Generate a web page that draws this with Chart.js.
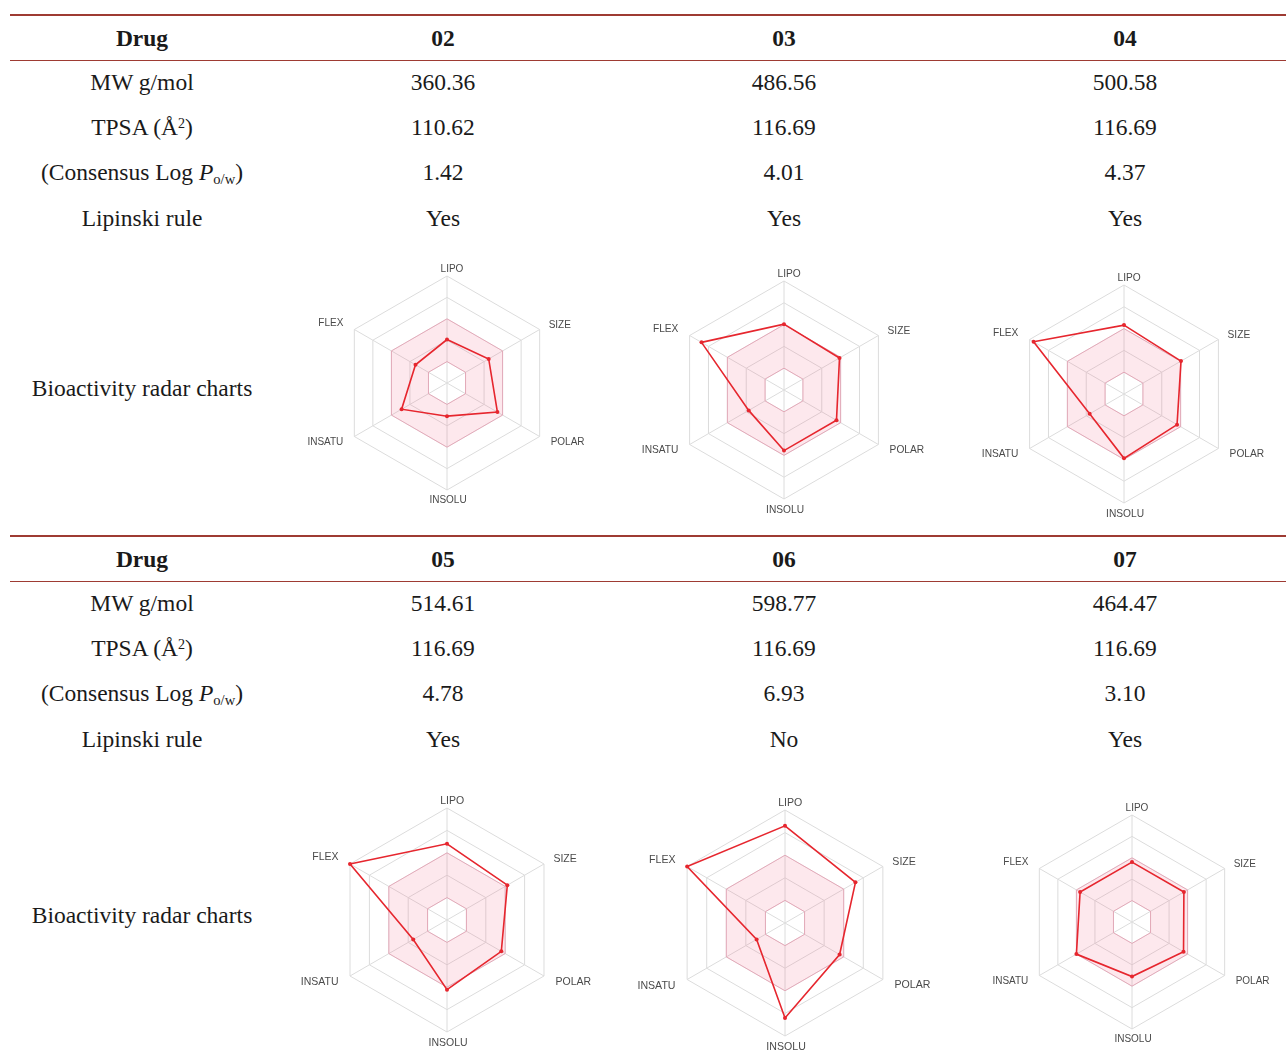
<!DOCTYPE html>
<html>
<head>
<meta charset="utf-8">
<script src="https://cdn.jsdelivr.net/npm/chart.js@4.4.1/dist/chart.umd.min.js"></script>
<style>
  body { margin: 0; background: #fff; }
  #page { position: relative; width: 1286px; height: 1062px; overflow: hidden;
          font-family: "Liberation Serif", "Times New Roman", serif; color: #1a1a1a; }
  .cell { position: absolute; transform: translate(-50%, -50%); white-space: nowrap;
          font-size: 23.5px; line-height: 1; }
  .cell.bold { font-weight: bold; }
  .cell sup { font-size: 0.6em; vertical-align: 0.55em; line-height: 0; }
  .cell sub { font-size: 0.62em; vertical-align: -0.25em; line-height: 0; }
  .rule { position: absolute; left: 10px; right: 0; background: #9e3b33; }
  canvas { position: absolute; }
</style>
</head>
<body>
<div id="page"></div>
<script>
// Table values
const drugIds = ["02", "03", "04", "05", "06", "07"];
const mwValues = ["360.36", "486.56", "500.58", "514.61", "598.77", "464.47"];
const tpsaValues = ["110.62", "116.69", "116.69", "116.69", "116.69", "116.69"];
const logPValues = ["1.42", "4.01", "4.37", "4.78", "6.93", "3.10"];
const lipinskiRule = ["Yes", "Yes", "Yes", "Yes", "No", "Yes"];
const rowLabels = ["MW g/mol", "TPSA (Å<sup>2</sup>)", "(Consensus Log <i>P</i><sub>o/w</sub>)", "Lipinski rule"];

// Radar axes, clockwise from the top, on a 0-5 scale
const radarAxes = ["LIPO", "SIZE", "POLAR", "INSOLU", "INSATU", "FLEX"];
const radar02 = [2.03, 2.25, 2.72, 1.55, 2.45, 1.7];
const radar03 = [3.02, 2.94, 2.78, 2.78, 1.87, 4.37];
const radar04 = [3.16, 3.02, 2.81, 2.95, 1.82, 4.79];
const radar05 = [3.4, 3.11, 2.8, 3.11, 1.74, 5];
const radar06 = [4.3, 3.6, 2.79, 4.2, 1.45, 5];
const radar07 = [2.8, 2.8, 2.78, 2.55, 3.0, 2.8];
// optimal range (pink band)
const optimalUpper = [3, 3, 3, 3, 3, 3];
const optimalLower = [1, 1, 1, 1, 1, 1];

const radarSeries = [radar02, radar03, radar04, radar05, radar06, radar07];

const page = document.getElementById("page");

const addCell = (html, x, y, bold) => {
  const el = document.createElement("div");
  el.className = bold ? "cell bold" : "cell";
  el.innerHTML = html;
  el.style.left = x + "px";
  el.style.top = y + "px";
  page.appendChild(el);
};

const addRule = (y, h) => {
  const el = document.createElement("div");
  el.className = "rule";
  el.style.top = y + "px";
  el.style.height = h + "px";
  page.appendChild(el);
};

// axis names next to the outer ring: [dx, dy, align]
const titleOffsets = [
  [5, -7, "center"],
  [9, -4.5, "left"],
  [11, 5.5, "left"],
  [1, 10.5, "center"],
  [-11, 6, "right"],
  [-11, -6.5, "right"],
];

const axisTitles = {
  id: "axisTitles",
  afterDraw(chart) {
    const scale = chart.scales.r;
    const ctx = chart.ctx;
    const k = scale.drawingArea / 107;
    ctx.save();
    ctx.font = `${(10 * k).toFixed(1)}px "Liberation Sans", Arial, sans-serif`;
    ctx.fillStyle = "#4a4a4a";
    ctx.textBaseline = "middle";
    chart.data.labels.forEach((label, i) => {
      const p = scale.getPointPosition(i, scale.drawingArea);
      const [dx, dy, align] = titleOffsets[i];
      ctx.textAlign = align;
      ctx.fillText(label, p.x + dx * k, p.y + dy * k);
    });
    ctx.restore();
  },
};

const drawRadar = (values, cx, cy, r) => {
  const canvas = document.createElement("canvas");
  canvas.width = 320;
  canvas.height = 270;
  canvas.style.left = cx - 160 + "px";
  canvas.style.top = cy - 135 + "px";
  page.appendChild(canvas);

  new Chart(canvas, {
    type: "radar",
    data: {
      labels: radarAxes,
      datasets: [
        {
          data: values,
          borderColor: "#e6262e",
          borderWidth: 1.6,
          pointRadius: 2,
          pointBorderWidth: 0,
          pointBackgroundColor: "#e6262e",
          fill: false,
        },
        {
          data: optimalUpper,
          borderColor: "rgba(232, 120, 150, 0.45)",
          borderWidth: 1,
          pointRadius: 0,
          backgroundColor: "rgba(240, 90, 130, 0.14)",
          fill: "+1",
        },
        {
          data: optimalLower,
          borderColor: "rgba(232, 120, 150, 0.45)",
          borderWidth: 1,
          pointRadius: 0,
          fill: false,
        },
      ],
    },
    options: {
      responsive: false,
      animation: false,
      layout: { padding: { left: 160 - r, right: 160 - r, top: 135 - r, bottom: 135 - r } },
      plugins: { legend: { display: false }, tooltip: { enabled: false } },
      scales: {
        r: {
          min: 0,
          max: 5,
          ticks: { display: false, stepSize: 1 },
          pointLabels: { display: false },
          grid: { color: "#dcdcdc", lineWidth: 1 },
          angleLines: { color: "#dcdcdc", lineWidth: 1 },
        },
      },
    },
    plugins: [axisTitles],
  });
};

// two blocks of three drugs each
const blocks = [
  { ids: [0, 1, 2], dy: 0, labelY: 389,
    radar: [[447, 383, 107], [784, 390, 109], [1124, 394, 109]] },
  { ids: [3, 4, 5], dy: 521, labelY: 916,
    radar: [[447, 920, 112], [785, 923, 113], [1132, 922, 107]] },
];
const colX = [443, 784, 1125];
const rowY = [83, 128, 173, 218.5];

blocks.forEach((b) => {
  addRule(14 + b.dy, 2);
  addRule(60 + b.dy, 1);
  addCell("Drug", 142, 39 + b.dy, true);
  rowLabels.forEach((label, j) => addCell(label, 142, rowY[j] + b.dy));
  addCell("Bioactivity radar charts", 142, b.labelY);

  b.ids.forEach((id, c) => {
    const x = colX[c];
    addCell(drugIds[id], x, 39 + b.dy, true);
    addCell(mwValues[id], x, rowY[0] + b.dy);
    addCell(tpsaValues[id], x, rowY[1] + b.dy);
    addCell(logPValues[id], x, rowY[2] + b.dy);
    addCell(lipinskiRule[id], x, rowY[3] + b.dy);
    const [cx, cy, r] = b.radar[c];
    drawRadar(radarSeries[id], cx, cy, r);
  });
});
</script>
</body>
</html>
